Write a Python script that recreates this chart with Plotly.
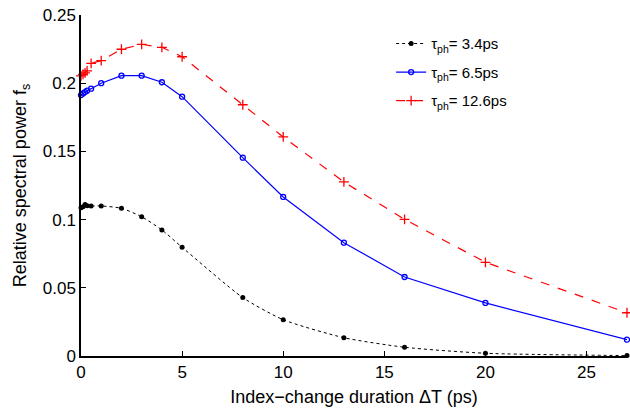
import plotly.graph_objects as go

# index-change duration (ps)
dt = [0, 0.1, 0.2, 0.3, 0.5, 1, 2, 3, 4, 5, 8, 10, 13, 16, 20, 27]

fs_34 = [0.1087, 0.1095, 0.111, 0.1102, 0.1100, 0.1100, 0.1083, 0.1021, 0.0924, 0.0797,
         0.0428, 0.0266, 0.0134, 0.0064, 0.0020, 0.0003]
fs_65 = [0.1913, 0.1925, 0.1935, 0.1945, 0.1960, 0.2000, 0.2055, 0.2055, 0.2007, 0.1901,
         0.1454, 0.1166, 0.0831, 0.0579, 0.0389, 0.0120]
fs_126 = [0.2053, 0.2065, 0.2075, 0.2090, 0.2146, 0.2165, 0.2249, 0.2285, 0.2263, 0.2194,
          0.1842, 0.1606, 0.1276, 0.1002, 0.0687, 0.0317]

names = ['τ<sub>ph</sub>= 3.4ps', 'τ<sub>ph</sub>= 6.5ps', 'τ<sub>ph</sub>= 12.6ps']

fig = go.Figure()
fig.add_trace(go.Scatter(x=dt, y=fs_34, name=names[0], mode='lines+markers',
                         legendgroup='a', cliponaxis=False,
                         line=dict(color='black', width=1, dash='dot',
                                   shape='spline', smoothing=0.6),
                         marker=dict(symbol='circle', size=5, color='black')))
fig.add_trace(go.Scatter(x=dt, y=fs_65, name=names[1], mode='lines+markers',
                         legendgroup='b', cliponaxis=False,
                         line=dict(color='blue', width=1.2),
                         marker=dict(symbol='circle-open', size=5, color='blue',
                                     line=dict(width=1.3))))
fig.add_trace(go.Scatter(x=dt, y=fs_126, name=names[2], mode='lines+markers',
                         legendgroup='c', cliponaxis=False,
                         line=dict(color='red', width=1.2, dash='dash'),
                         marker=dict(symbol='cross-thin', size=7,
                                     line=dict(width=1.3, color='red'))))

axis_style = dict(showline=True, linecolor='black', linewidth=1.5,
                  ticks='inside', ticklen=5, tickcolor='black',
                  showgrid=False, zeroline=False, automargin=False,
                  tickfont=dict(size=17, color='black'))

fig.update_xaxes(range=[0, 27], tickvals=[0, 5, 10, 15, 20, 25],
                 title=dict(text='Index−change duration ΔT (ps)',
                            font=dict(size=18, color='black'), standoff=9),
                 **axis_style)
fig.update_yaxes(range=[0, 0.25], tickvals=[0, 0.05, 0.1, 0.15, 0.2, 0.25],
                 ticktext=['0', '0.05', '0.1', '0.15', '0.2', '0.25'],
                 title=dict(text='Relative spectral power f<sub>s</sub>',
                            font=dict(size=18, color='black'), standoff=11),
                 **axis_style)

fig.update_layout(width=630, height=410,
                  margin=dict(l=81, r=3, t=15, b=54),
                  plot_bgcolor='white', paper_bgcolor='white',
                  font=dict(family='Liberation Sans, Arial, sans-serif', color='black'),
                  legend=dict(x=0.568, y=0.964, xanchor='left', yanchor='top',
                              bgcolor='rgba(0,0,0,0)', font=dict(size=15),
                              itemwidth=30, tracegroupgap=6))

fig.write_html("out.html", config={'displayModeBar': False},
               post_script="document.body.style.margin='0';")
